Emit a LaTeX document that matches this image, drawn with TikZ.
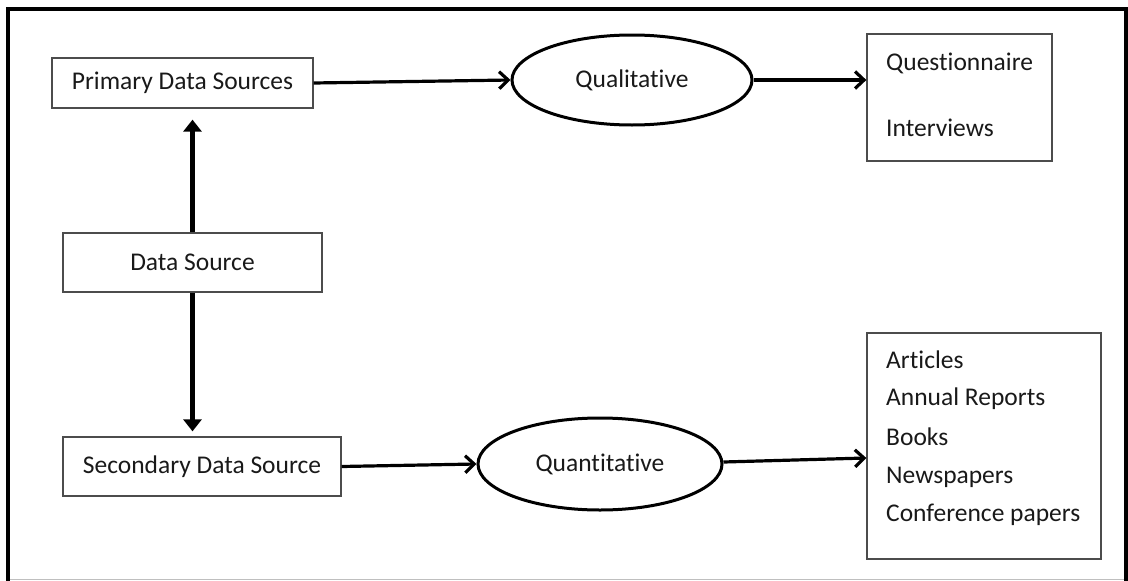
\documentclass[tikz,border=0pt]{standalone}
\usepackage{fontspec}
\setmainfont[Ligatures=NoCommon]{Carlito}
\usetikzlibrary{arrows.meta,shapes.geometric,calc}
\tikzset{
  lbl/.style={font=\fontsize{25.5}{30}\selectfont, text=black!90},
  srcbox/.style={draw=black!70, line width=1.3pt, rectangle, inner sep=0pt, lbl},
  kindell/.style={draw=black, line width=3pt, ellipse, inner sep=0pt, lbl},
  flow/.style={line width=3.2pt, -{Straight Barb[length=9pt,width=17pt]}},
  trunk/.style={line width=5.5pt, -{Triangle[length=12pt,width=18pt]}},
  item/.style={lbl, anchor=west, inner sep=0pt}
}
\begin{document}
\begin{tikzpicture}[x=1pt,y=-1pt]
  \useasboundingbox (0,0) rectangle (1128,581);
  % outer frame
  \draw[black!25, line width=1.5pt] (8,579.5) -- (1126,579.5);
  \draw[black, line width=4pt, line cap=rect] (8,579.5) -- (8,9) -- (1126,9) -- (1126,579.5);

  % source boxes
  \node[srcbox, minimum width=261pt, minimum height=50pt] (prim) at (182.5,83) {Primary Data Sources};
  \node[srcbox, minimum width=259pt, minimum height=59pt] (ds) at (192.5,262.5) {Data Source};
  \node[srcbox, minimum width=278pt, minimum height=59pt] (sec) at (202,466.5) {Secondary Data Source};

  % data kinds
  \node[kindell, minimum width=240pt, minimum height=90pt] (qual) at (632,80) {Qualitative};
  \node[kindell, minimum width=244pt, minimum height=92pt] (quant) at (600,464) {Quantitative};

  % instrument lists
  \node[srcbox, minimum width=185pt, minimum height=127pt] (qbox) at (959.5,97.5) {};
  \node[item] (q1) at (886,63) {Questionnaire};
  \node[item] (q2) at (886,128) {Interviews};

  \node[srcbox, minimum width=234pt, minimum height=226pt] (sbox) at (984,446) {};
  \node[item] (s1) at (886,360) {Articles};
  \node[item] (s2) at (886,399) {Annual Reports};
  \node[item] (s3) at (886,437) {Books};
  \node[item] (s4) at (886,477) {Newspapers};
  \node[item] (s5) at (886,515) {Conference papers};

  % connectors
  \draw[trunk, shorten >=11pt] (ds.north) -- (ds.north |- prim.south);
  \draw[trunk, shorten >=5pt] (ds.south) -- (ds.south |- sec.north);
  \draw[flow] (prim.east) -- (qual.west);
  \draw[flow] (qual.east) -- (qual.east -| qbox.west);
  \draw[flow] (sec.east) -- (quant.west);
  \draw[flow] ([yshift=2pt]quant.east) -- ([yshift=-12pt]sbox.west);
\end{tikzpicture}
\end{document}
